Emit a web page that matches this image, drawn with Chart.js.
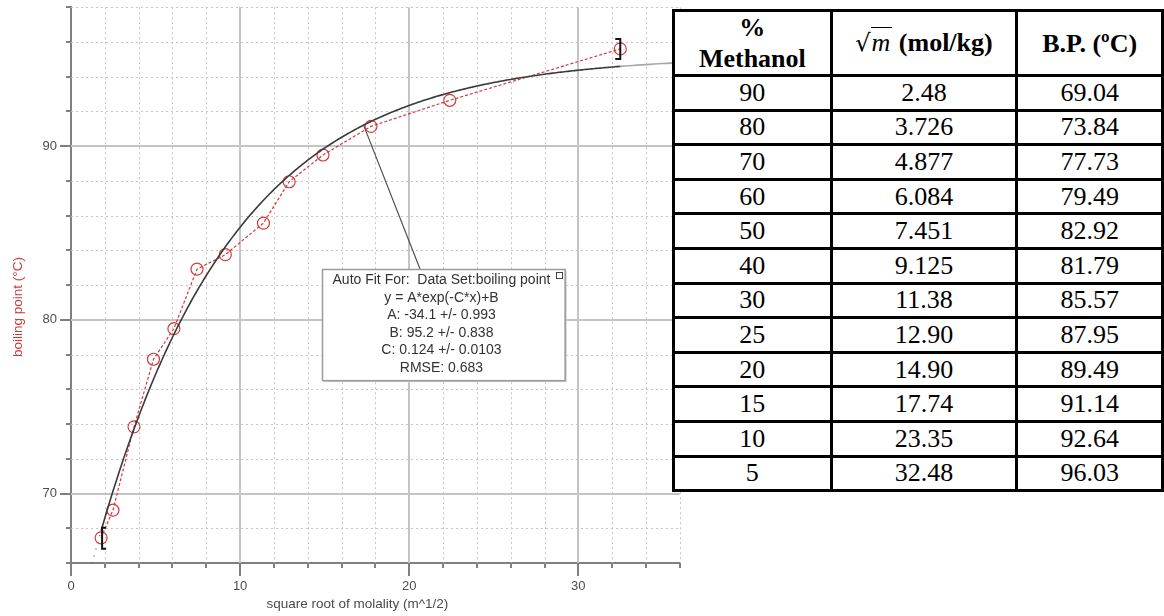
<!DOCTYPE html>
<html>
<head>
<meta charset="utf-8">
<title>Boiling point of methanol–water mixtures</title>
<script src="https://cdn.jsdelivr.net/npm/chart.js@4.4.1/dist/chart.umd.min.js"></script>
<style>
  html, body { margin: 0; padding: 0; background: #fff; }
  body { width: 1164px; height: 616px; overflow: hidden; position: relative; }
  #plot { position: absolute; left: 0; top: 0; width: 687px; height: 616px; }
  #bpTable {
    position: absolute; left: 672px; top: 9px;
    border-collapse: collapse; table-layout: fixed;
    font-family: "Liberation Serif", "Times New Roman", serif;
    font-size: 26px; color: #000; background: #fff;
  }
  #bpTable td, #bpTable th {
    border: 3px solid #000; text-align: center; padding: 0;
    vertical-align: middle;
  }
  #bpTable th { font-weight: bold; line-height: 31px; }
  #bpTable thead tr { height: 62px; }
  #bpTable tbody tr { height: 34.6px; }
  #bpTable td { line-height: 28px; }
  .rad { font-weight: normal; font-family: "DejaVu Serif", "Liberation Serif", serif; font-size: 24px; }
  .ov { font-style: italic; font-weight: normal; border-top: 1.5px solid #000; padding: 0 2px 0 1px; }
</style>
</head>
<body>
<div id="plot"><canvas id="chart"></canvas></div>
<table id="bpTable">
  <colgroup><col style="width:159px"><col style="width:188px"><col style="width:148px"></colgroup>
  <thead><tr id="headRow"></tr></thead>
  <tbody id="bpBody"></tbody>
</table>
<script>
// Logged run: square root of molality (m^1/2) against boiling point (°C)
const rootMolality = [1.78, 2.48, 3.726, 4.877, 6.084, 7.451, 9.125, 11.38, 12.90, 14.90, 17.74, 22.40, 32.48];
const boilingPoint = [67.45, 69.04, 73.84, 77.73, 79.49, 82.92, 83.75, 85.57, 87.95, 89.49, 91.14, 92.64, 95.60];

// Auto Fit result: y = A*exp(-C*x)+B
const fitA = -34.1;
const fitB = 95.2;
const fitC = 0.124;
const fitLabel = [
  'Auto Fit For:  Data Set:boiling point',
  'y = A*exp(-C*x)+B',
  'A: -34.1 +/- 0.993',
  'B: 95.2 +/- 0.838',
  'C: 0.124 +/- 0.0103',
  'RMSE: 0.683'
];

// Axis ranges and labelled ticks
const xRange = [0, 36];
const yRange = [66, 98];
const xLabelTicks = [0, 10, 20, 30];
const yLabelTicks = [70, 80, 90];
const xTitle = 'square root of molality (m^1/2)';
const yTitle = 'boiling point (°C)';

// Data table
const tableHeaders = ['%<br>Methanol', '<span class="rad">√</span><span class="ov">m</span> (mol/kg)', 'B.P. (ºC)'];
const pctMethanol = ['90', '80', '70', '60', '50', '40', '30', '25', '20', '15', '10', '5'];
const tableRootM = ['2.48', '3.726', '4.877', '6.084', '7.451', '9.125', '11.38', '12.90', '14.90', '17.74', '23.35', '32.48'];
const tableBP = ['69.04', '73.84', '77.73', '79.49', '82.92', '81.79', '85.57', '87.95', '89.49', '91.14', '92.64', '96.03'];

// ---- table ----
document.getElementById('headRow').innerHTML = tableHeaders.map(h => '<th>' + h + '</th>').join('');
document.getElementById('bpBody').innerHTML = pctMethanol.map((p, i) =>
  '<tr><td>' + p + '</td><td>' + tableRootM[i] + '</td><td>' + tableBP[i] + '</td></tr>').join('');

// ---- chart ----
const fitY = x => fitA * Math.exp(-fitC * x) + fitB;
const runPoints = rootMolality.map((x, i) => ({ x, y: boilingPoint[i] }));

// model curve over the fitted range, plus its continuation on both sides
const xFirst = rootMolality[0], xLast = rootMolality[rootMolality.length - 1];
const curveOver = (x0, x1, step) => {
  const pts = [];
  for (let x = x0; x < x1; x += step) pts.push({ x, y: fitY(x) });
  pts.push({ x: x1, y: fitY(x1) });
  return pts;
};
const fitCurve = curveOver(xFirst, xLast, 0.1);
const fitRight = curveOver(xLast, xRange[1], 0.25);
const fitLeft = curveOver(1.25, xFirst, 0.05);

const loggerPro = {
  id: 'loggerPro',
  beforeDatasetsDraw(chart) {
    const { ctx, chartArea: a, scales: { x, y } } = chart;
    ctx.save();
    // minor dotted grid every 2 units
    ctx.strokeStyle = '#c6c6c6';
    ctx.lineWidth = 1;
    ctx.setLineDash([2, 3]);
    ctx.beginPath();
    for (let v = xRange[0] + 2; v <= xRange[1]; v += 2) {
      if (v % 10 === 0) continue;
      const px = Math.round(x.getPixelForValue(v)) + 0.5;
      ctx.moveTo(px, a.top); ctx.lineTo(px, a.bottom);
    }
    for (let v = yRange[0] + 2; v <= yRange[1]; v += 2) {
      if (v % 10 === 0) continue;
      const py = Math.round(y.getPixelForValue(v)) + 0.5;
      ctx.moveTo(a.left, py); ctx.lineTo(a.right, py);
    }
    ctx.stroke();
    // major solid grid every 10 units
    ctx.setLineDash([]);
    ctx.strokeStyle = '#c4c4c4';
    ctx.lineWidth = 2;
    ctx.beginPath();
    xLabelTicks.filter(v => v > xRange[0]).forEach(v => {
      const px = Math.round(x.getPixelForValue(v));
      ctx.moveTo(px, a.top); ctx.lineTo(px, a.bottom);
    });
    yLabelTicks.forEach(v => {
      const py = Math.round(y.getPixelForValue(v));
      ctx.moveTo(a.left, py); ctx.lineTo(a.right, py);
    });
    ctx.stroke();
    ctx.restore();
  },
  afterDatasetsDraw(chart) {
    const { ctx, scales: { x, y } } = chart;
    ctx.save();
    // range brackets at the ends of the fitted data
    ctx.strokeStyle = '#111';
    ctx.lineWidth = 2;
    const bx0 = x.getPixelForValue(xFirst) + 1, by0 = y.getPixelForValue(boilingPoint[0]);
    ctx.beginPath();
    ctx.moveTo(bx0 + 4, by0 - 10); ctx.lineTo(bx0, by0 - 10); ctx.lineTo(bx0, by0 + 11); ctx.lineTo(bx0 + 4, by0 + 11);
    ctx.stroke();
    const bx1 = x.getPixelForValue(xLast), by1 = y.getPixelForValue(boilingPoint[boilingPoint.length - 1]);
    ctx.beginPath();
    ctx.moveTo(bx1 - 5, by1 - 10); ctx.lineTo(bx1, by1 - 10); ctx.lineTo(bx1, by1 + 10); ctx.lineTo(bx1 - 5, by1 + 10);
    ctx.stroke();

    // fit annotation box
    const o = chart.options.plugins.loggerPro;
    const L = x.getPixelForValue(o.box.x0), R = x.getPixelForValue(o.box.x1);
    const T = y.getPixelForValue(o.box.y0), B = y.getPixelForValue(o.box.y1);
    // callout line from the curve to the box
    ctx.strokeStyle = '#505050';
    ctx.lineWidth = 1.2;
    ctx.beginPath();
    ctx.moveTo(x.getPixelForValue(o.pointer), y.getPixelForValue(fitY(o.pointer)));
    ctx.lineTo(x.getPixelForValue(o.anchor), T);
    ctx.stroke();
    // box with a soft shadow
    ctx.fillStyle = '#d0d0d0';
    ctx.fillRect(Math.round(L) + 2, Math.round(T) + 2, R - L, B - T);
    ctx.fillStyle = '#fff';
    ctx.fillRect(Math.round(L), Math.round(T), R - L, B - T);
    ctx.strokeStyle = '#9a9a9a';
    ctx.lineWidth = 1.5;
    ctx.strokeRect(Math.round(L) + 0.5, Math.round(T) + 0.5, R - L, B - T);
    // small square at the corner
    ctx.strokeStyle = '#444';
    ctx.lineWidth = 1;
    ctx.strokeRect(Math.round(R) - 8.5, Math.round(T) + 3.5, 6, 6);
    // text lines
    ctx.fillStyle = '#333';
    ctx.font = '14px "Liberation Sans", Arial, sans-serif';
    ctx.textAlign = 'center';
    ctx.textBaseline = 'middle';
    const cx = (L + R) / 2 - 2;
    fitLabel.forEach((t, i) => ctx.fillText(t, cx, T + 11 + i * 17.5));
    ctx.restore();
  },
  afterDraw(chart) {
    const { ctx, chartArea: a, scales: { x, y } } = chart;
    ctx.save();
    // tick marks: long at labelled values, short every 2 units
    ctx.strokeStyle = '#808080';
    ctx.lineWidth = 2;
    ctx.beginPath();
    for (let v = yRange[0]; v <= yRange[1]; v += 2) {
      const py = Math.round(y.getPixelForValue(v));
      const len = v % 10 === 0 ? 11 : 5;
      ctx.moveTo(a.left - len, py); ctx.lineTo(a.left, py);
    }
    for (let v = xRange[0]; v <= xRange[1]; v += 2) {
      const px = Math.round(x.getPixelForValue(v));
      const len = v % 10 === 0 ? 13 : 5;
      ctx.moveTo(px, a.bottom); ctx.lineTo(px, a.bottom + len);
    }
    ctx.stroke();
    // axis titles
    ctx.font = '13.5px "Liberation Sans", Arial, sans-serif';
    ctx.textAlign = 'center';
    ctx.textBaseline = 'middle';
    ctx.fillStyle = '#4a4a4a';
    ctx.fillText(xTitle, (a.left + a.right) / 2 - 18, a.bottom + 41);
    ctx.translate(a.left - 53, (a.top + a.bottom) / 2 + 22);
    ctx.rotate(-Math.PI / 2);
    ctx.fillStyle = '#c83a3a';
    ctx.fillText(yTitle, 0, 0);
    ctx.restore();
  }
};

new Chart(document.getElementById('chart'), {
  type: 'scatter',
  data: {
    datasets: [
      {
        label: 'Auto Fit',
        data: fitCurve,
        showLine: true,
        borderColor: '#3a3a3a',
        borderWidth: 1.6,
        pointRadius: 0,
        tension: 0
      },
      {
        label: 'Auto Fit (extended)',
        data: fitRight,
        showLine: true,
        borderColor: '#a8a8a8',
        borderWidth: 1.6,
        pointRadius: 0
      },
      {
        label: 'Auto Fit (extended, left)',
        data: fitLeft,
        showLine: true,
        borderColor: '#555',
        borderWidth: 1.2,
        borderDash: [1, 6],
        pointRadius: 0
      },
      {
        label: 'boiling point',
        data: runPoints,
        showLine: true,
        borderColor: '#d23b3b',
        borderWidth: 1.2,
        borderDash: [3, 2],
        pointRadius: 6,
        pointBorderWidth: 1.2,
        pointBorderColor: '#d23b3b',
        pointBackgroundColor: 'rgba(0,0,0,0)',
        pointStyle: 'circle'
      }
    ]
  },
  options: {
    responsive: true,
    maintainAspectRatio: false,
    animation: false,
    layout: { padding: { top: 6, right: 3, left: 0, bottom: 0 } },
    plugins: {
      legend: { display: false },
      tooltip: { enabled: false },
      loggerPro: {
        box: { x0: 14.85, x1: 29.2, y0: 82.9, y1: 76.5 },
        pointer: 17.3,
        anchor: 20.65
      }
    },
    scales: {
      x: {
        type: 'linear',
        min: xRange[0], max: xRange[1],
        afterFit(s) { s.height = 53; s.paddingLeft = 0; s.paddingRight = 0; },
        grid: { display: false, drawTicks: false },
        border: { display: true, color: '#808080', width: 2 },
        ticks: {
          stepSize: 2, autoSkip: false, maxRotation: 0, padding: 16,
          color: '#4e4e4e',
          font: { family: '"Liberation Sans", Arial, sans-serif', size: 13 },
          callback: v => (xLabelTicks.includes(v) ? String(v) : '')
        }
      },
      y: {
        type: 'linear',
        min: yRange[0], max: yRange[1],
        afterFit(s) { s.width = 71; s.paddingTop = 0; s.paddingBottom = 0; },
        grid: { display: false, drawTicks: false },
        border: { display: true, color: '#808080', width: 2 },
        ticks: {
          stepSize: 2, autoSkip: false, padding: 14,
          color: '#4e4e4e',
          font: { family: '"Liberation Sans", Arial, sans-serif', size: 13 },
          callback: v => (yLabelTicks.includes(v) ? String(v) : '')
        }
      }
    }
  },
  plugins: [loggerPro]
});
</script>
</body>
</html>
